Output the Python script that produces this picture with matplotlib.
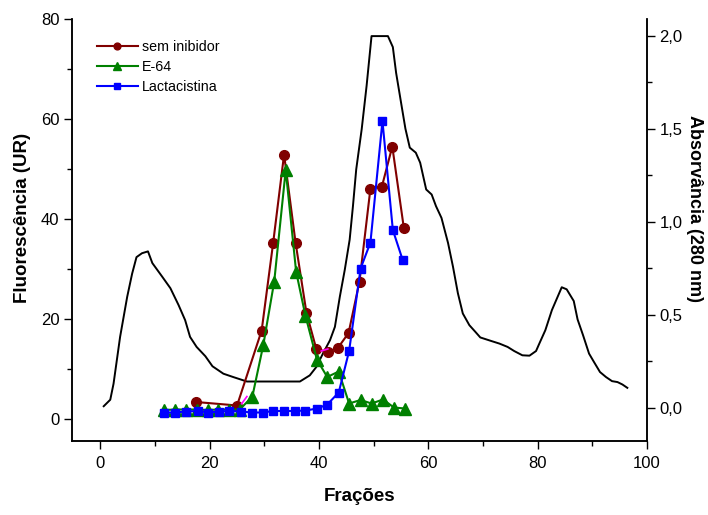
import matplotlib
matplotlib.use("Agg")
import matplotlib.pyplot as plt
import numpy as np
from matplotlib.ticker import MultipleLocator, FuncFormatter

plt.rcParams['font.family'] = ['Liberation Sans', 'DejaVu Sans']

# Absorbance (280 nm) profile
abs_x = [0.6, 1.8, 2.4, 3.6, 4.9, 5.8, 6.6, 7.6, 8.7, 9.5, 11.3, 12.8, 14.3, 15.5, 16.4,
         17.6, 19.2, 20.5, 22.5, 24.3, 26.8, 36.5, 38.3, 39.5, 40.7, 42.0, 42.9, 43.8,
         44.7, 45.6, 46.2, 46.8, 47.8, 48.7, 49.6, 52.6, 53.5, 54.1, 55.1, 55.8, 56.6,
         57.7, 58.5, 59.6, 60.6, 61.4, 62.4, 63.6, 64.5, 65.4, 66.3, 67.5, 68.6, 69.5,
         71.5, 73.0, 74.5, 75.7, 77.2, 78.5, 79.7, 80.3, 81.4, 82.6, 84.4, 85.3, 86.6,
         87.3, 88.3, 89.4, 90.3, 91.4, 92.5, 93.6, 94.6, 95.5, 96.4]
abs_y = [0.007, 0.042, 0.128, 0.38, 0.596, 0.72, 0.809, 0.83, 0.84, 0.777, 0.704, 0.642,
         0.551, 0.47, 0.38, 0.326, 0.276, 0.222, 0.182, 0.164, 0.14, 0.14, 0.173, 0.218,
         0.29, 0.362, 0.434, 0.596, 0.74, 0.903, 1.083, 1.281, 1.497, 1.731, 1.998,
         1.998, 1.939, 1.80, 1.623, 1.50, 1.398, 1.371, 1.317, 1.173, 1.146, 1.083, 1.02,
         0.885, 0.758, 0.615, 0.506, 0.443, 0.407, 0.377, 0.358, 0.344, 0.326, 0.304,
         0.281, 0.279, 0.304, 0.344, 0.416, 0.524, 0.647, 0.636, 0.573, 0.474, 0.389,
         0.29, 0.245, 0.191, 0.164, 0.142, 0.137, 0.124, 0.106]

# Fluorescence series
sem_x = [17.5, 25.0, 29.5, 31.6, 33.6, 35.7, 37.7, 39.5, 41.6, 43.5, 45.4, 47.4, 49.4,
         51.5, 53.4, 55.5]
sem_y = [3.4, 2.7, 17.7, 35.2, 52.9, 35.3, 21.2, 14.0, 13.4, 14.3, 17.2, 27.5, 46.1,
         46.5, 54.5, 38.3]

e64_x = [11.7, 13.7, 15.6, 17.6, 19.6, 21.6, 23.5, 25.5, 27.8, 29.8, 31.8, 33.9, 35.8,
         37.5, 39.6, 41.5, 43.6, 45.5, 47.6, 49.6, 51.7, 53.7, 55.7]
e64_y = [1.8, 1.9, 1.9, 1.9, 1.8, 1.9, 1.9, 1.9, 4.5, 14.8, 27.5, 49.8, 29.5,
         20.7, 11.9, 8.4, 9.5, 3.1, 3.8, 3.1, 3.9, 2.3, 2.1]

lac_x = [11.6, 13.7, 15.6, 17.8, 19.7, 21.7, 23.6, 25.7, 27.7, 29.7, 31.6, 33.6, 35.6,
         37.5, 39.7, 41.5, 43.6, 45.5, 47.6, 49.4, 51.6, 53.5, 55.3]
lac_y = [1.3, 1.3, 1.5, 1.6, 1.3, 1.5, 1.6, 1.5, 1.3, 1.3, 1.6, 1.6, 1.6,
         1.7, 2.1, 2.9, 5.3, 13.6, 30.1, 35.3, 59.6, 37.8, 31.8]

mag_x = [25.8, 26.8, np.nan, 40.4, 41.6]
mag_y = [3.0, 4.5, np.nan, 13.6, 14.0]

fig = plt.figure(figsize=(7.08, 5.15), dpi=100)
ax = fig.add_axes([72/708, 1-441/515, (647-72)/708, (441-19)/515])
ax2 = ax.twinx()
ax.set_zorder(ax2.get_zorder() + 1)
ax.patch.set_visible(False)

ax2.plot(abs_x, abs_y, color='black', lw=1.4)

ax.plot(sem_x, sem_y, color='#800000', lw=1.5, marker='o', ms=7, mfc='#800000',
        mec='#800000', label='sem inibidor')
ax.plot(mag_x, mag_y, color='magenta', lw=1.2)
ax.plot(e64_x, e64_y, color='#008000', lw=1.5, marker='^', ms=8.5, mfc='#008000',
        mec='#008000', label='E-64')
ax.plot(lac_x, lac_y, color='#0000FF', lw=1.5, marker='s', ms=5.5, mfc='#0000FF',
        mec='#0000FF', label='Lactacistina')

ax.set_xlim(-5.2, 100)
ax.set_ylim(-4.4, 80)
ax2.set_ylim(-0.18, 2.09)

for a in (ax, ax2):
    a.spines['top'].set_visible(False)
    a.tick_params(which='major', direction='out', length=6, width=1, labelsize=12,
                  pad=3)
    a.tick_params(which='minor', direction='out', length=3.8, width=1)
    for s in a.spines.values():
        s.set_linewidth(1.1)
ax.tick_params(axis='x', which='major', pad=5)

ax.xaxis.set_major_locator(MultipleLocator(20))
ax.xaxis.set_minor_locator(MultipleLocator(10))
ax.yaxis.set_major_locator(MultipleLocator(20))
ax.yaxis.set_minor_locator(MultipleLocator(10))
ax2.yaxis.set_major_locator(MultipleLocator(0.5))
ax2.yaxis.set_minor_locator(MultipleLocator(0.25))
ax2.yaxis.set_major_formatter(FuncFormatter(lambda v, p: f"{v:.1f}".replace('.', ',')))

ax.set_xlabel('Frações', fontsize=13.5, fontweight='bold', labelpad=12)
ax.set_ylabel('Fluorescência (UR)', fontsize=13.5, fontweight='bold', va='center')
ax.yaxis.set_label_coords((23 - 72) / 575, (441 - 218) / 422)
ax2.set_ylabel('Absorvância (280 nm)', fontsize=13, fontweight='bold', rotation=-90,
               va='center')
ax2.yaxis.set_label_coords((695 - 72) / 575, (441 - 208) / 422)

leg = ax.legend(loc='upper left', bbox_to_anchor=(0.043, 0.95), frameon=False,
                fontsize=10.3, handlelength=2.9, handletextpad=0.25, labelspacing=0.42,
                markerscale=0.7, borderaxespad=0, borderpad=0)

fig.savefig('out.png', dpi=100)
